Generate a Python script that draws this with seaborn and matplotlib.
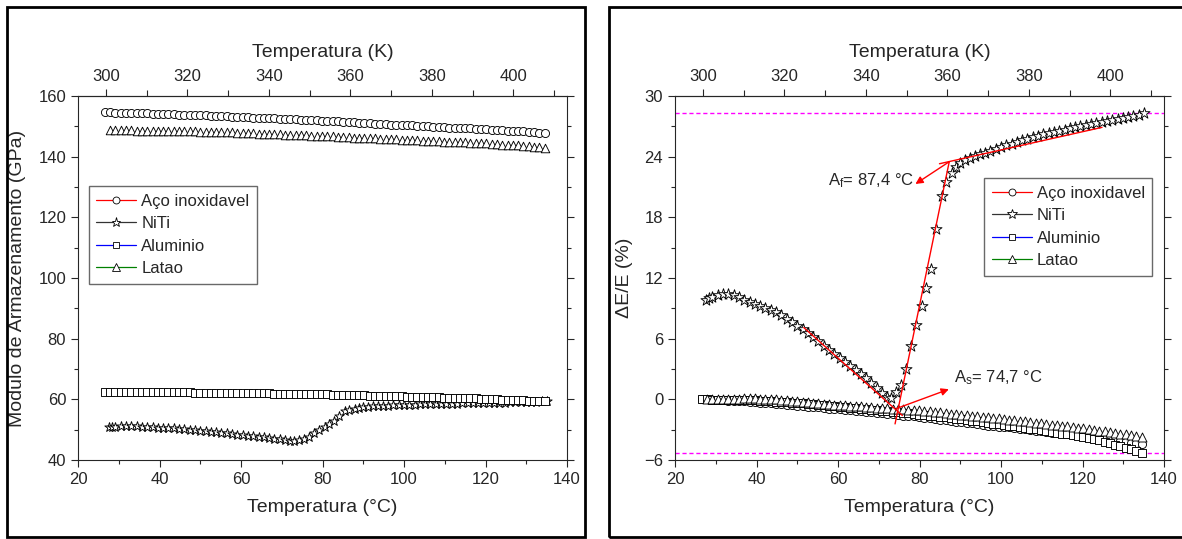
import matplotlib
matplotlib.use("Agg")
import matplotlib.pyplot as plt
import seaborn as sns
from matplotlib.lines import Line2D
from matplotlib.patches import Rectangle
from matplotlib.ticker import FixedLocator, MultipleLocator

####################################
# data
####################################
# common temperature grid (°C)
temp_c = [
    26.6, 27.9, 29.2, 30.5, 31.8, 33.1, 34.4, 35.7, 37.0, 38.3,
    39.6, 40.9, 42.2, 43.5, 44.8, 46.1, 47.4, 48.7, 50.0, 51.3,
    52.6, 53.9, 55.2, 56.5, 57.8, 59.1, 60.4, 61.7, 63.0, 64.3,
    65.6, 66.9, 68.2, 69.5, 70.8, 72.1, 73.4, 74.7, 76.0, 77.3,
    78.6, 79.9, 81.2, 82.5, 83.8, 85.1, 86.4, 87.7, 89.0, 90.3,
    91.6, 92.9, 94.2, 95.5, 96.8, 98.1, 99.4, 100.7, 102.0, 103.3,
    104.6, 105.9, 107.2, 108.5, 109.8, 111.1, 112.4, 113.7, 115.0, 116.3,
    117.6, 118.9, 120.2, 121.5, 122.8, 124.1, 125.4, 126.7, 128.0, 129.3,
    130.6, 131.9, 133.2, 134.5,
]
temp_latao = temp_c[1:]

# NiTi was sampled on its own grid
temp_niti = [
    27.5, 28.3, 29.2, 30.5, 31.8, 33.1, 34.4, 35.7, 37.0, 38.3,
    39.6, 40.9, 42.2, 43.5, 44.8, 46.1, 47.4, 48.7, 50.0, 51.3,
    52.6, 53.9, 55.2, 56.5, 57.8, 59.1, 60.4, 61.7, 63.0, 64.3,
    65.6, 66.9, 68.2, 69.5, 70.8, 72.0, 73.1, 74.3, 75.4, 76.8,
    77.9, 79.2, 80.5, 81.5, 82.7, 84.0, 85.5, 86.5, 87.9, 89.0,
    90.0, 91.1, 92.3, 93.5, 94.8, 96.1, 97.4, 98.7, 100.0, 101.3,
    102.6, 103.9, 105.2, 106.5, 107.8, 109.1, 110.4, 111.7, 113.0, 114.3,
    115.6, 116.9, 118.2, 119.5, 120.8, 122.1, 123.4, 124.7, 126.0, 127.3,
    128.6, 129.9, 131.2, 132.5, 133.8, 135.1,
]

# storage modulus (GPa)
mod_aco = [
    154.6, 154.6, 154.5, 154.5, 154.5, 154.4, 154.4, 154.3, 154.3, 154.2,
    154.2, 154.1, 154.1, 154.0, 153.9, 153.9, 153.8, 153.7, 153.6, 153.6,
    153.5, 153.4, 153.4, 153.3, 153.2, 153.1, 153.1, 153.0, 152.9, 152.8,
    152.8, 152.7, 152.6, 152.5, 152.5, 152.4, 152.3, 152.2, 152.1, 152.1,
    152.0, 151.9, 151.8, 151.7, 151.6, 151.5, 151.4, 151.3, 151.2, 151.1,
    151.0, 150.9, 150.8, 150.7, 150.6, 150.5, 150.4, 150.4, 150.3, 150.2,
    150.1, 150.0, 149.9, 149.8, 149.7, 149.6, 149.5, 149.4, 149.4, 149.3,
    149.2, 149.1, 149.0, 148.9, 148.8, 148.7, 148.6, 148.5, 148.4, 148.3,
    148.2, 148.0, 147.9, 147.8,
]
mod_latao = [
    148.8, 148.8, 148.7, 148.7, 148.7, 148.6, 148.6, 148.6, 148.5, 148.5,
    148.5, 148.4, 148.4, 148.4, 148.3, 148.3, 148.3, 148.2, 148.2, 148.1,
    148.1, 148.1, 148.0, 148.0, 147.9, 147.8, 147.8, 147.7, 147.6, 147.6,
    147.5, 147.4, 147.4, 147.3, 147.2, 147.1, 147.1, 147.0, 146.9, 146.9,
    146.8, 146.7, 146.7, 146.6, 146.5, 146.4, 146.3, 146.3, 146.2, 146.1,
    146.0, 145.9, 145.9, 145.8, 145.7, 145.6, 145.6, 145.5, 145.4, 145.3,
    145.2, 145.2, 145.1, 145.0, 144.9, 144.8, 144.8, 144.7, 144.6, 144.5,
    144.5, 144.4, 144.2, 144.1, 144.0, 143.9, 143.8, 143.7, 143.6, 143.4,
    143.3, 143.2, 143.0,
]
mod_alum = [
    62.5, 62.5, 62.5, 62.5, 62.4, 62.4, 62.4, 62.4, 62.4, 62.4,
    62.4, 62.3, 62.3, 62.3, 62.3, 62.3, 62.3, 62.2, 62.2, 62.2,
    62.2, 62.2, 62.1, 62.1, 62.1, 62.1, 62.1, 62.1, 62.0, 62.0,
    62.0, 62.0, 61.9, 61.9, 61.9, 61.8, 61.8, 61.8, 61.7, 61.7,
    61.6, 61.6, 61.6, 61.5, 61.5, 61.4, 61.4, 61.4, 61.3, 61.3,
    61.2, 61.2, 61.1, 61.1, 61.0, 61.0, 61.0, 60.9, 60.9, 60.8,
    60.8, 60.7, 60.7, 60.7, 60.6, 60.6, 60.5, 60.5, 60.4, 60.3,
    60.3, 60.2, 60.1, 60.1, 60.0, 59.9, 59.9, 59.8, 59.7, 59.7,
    59.6, 59.5, 59.5, 59.4,
]
mod_niti = [
    50.86, 50.93, 51.00, 51.07, 51.12, 51.12, 51.07, 50.98, 50.86, 50.74,
    50.65, 50.56, 50.49, 50.40, 50.28, 50.14, 49.98, 49.82, 49.66, 49.52,
    49.36, 49.17, 48.96, 48.75, 48.57, 48.38, 48.20, 48.01, 47.83, 47.64,
    47.46, 47.27, 47.04, 46.81, 46.58, 46.42, 46.35, 46.62, 46.95, 47.69,
    48.90, 50.00, 51.00, 51.90, 52.90, 54.50, 56.00, 56.50, 56.90, 57.20,
    57.35, 57.50, 57.65, 57.75, 57.85, 57.95, 58.00, 58.10, 58.15, 58.20,
    58.25, 58.30, 58.35, 58.40, 58.45, 58.50, 58.50, 58.55, 58.60, 58.65,
    58.70, 58.70, 58.75, 58.80, 58.85, 58.90, 58.90, 58.95, 59.00, 59.05,
    59.10, 59.15, 59.20, 59.25, 59.30, 59.35,
]

# relative change dE/E (%)
dee_aco = [
    0.00, 0.00, -0.06, -0.06, -0.06, -0.13, -0.13, -0.19, -0.19, -0.26,
    -0.26, -0.32, -0.32, -0.39, -0.45, -0.45, -0.52, -0.58, -0.65, -0.65,
    -0.71, -0.78, -0.78, -0.84, -0.91, -0.97, -0.97, -1.03, -1.10, -1.16,
    -1.16, -1.23, -1.29, -1.36, -1.36, -1.42, -1.49, -1.55, -1.62, -1.62,
    -1.68, -1.75, -1.81, -1.88, -1.94, -2.01, -2.07, -2.13, -2.20, -2.26,
    -2.33, -2.39, -2.46, -2.52, -2.59, -2.65, -2.72, -2.72, -2.78, -2.85,
    -2.91, -2.98, -3.04, -3.10, -3.17, -3.23, -3.30, -3.36, -3.36, -3.43,
    -3.49, -3.56, -3.62, -3.69, -3.75, -3.82, -3.88, -3.95, -4.01, -4.08,
    -4.14, -4.27, -4.33, -4.40,
]
dee_latao = [
    0.05, 0.06, 0.06, 0.07, 0.07, 0.08, 0.08, 0.09, 0.09, 0.10,
    0.08, 0.06, 0.03, 0.00, -0.04, -0.09, -0.14, -0.19, -0.23, -0.28,
    -0.33, -0.37, -0.42, -0.47, -0.52, -0.56, -0.60, -0.63, -0.67, -0.70,
    -0.74, -0.78, -0.81, -0.85, -0.88, -0.92, -0.95, -0.99, -1.03, -1.06,
    -1.10, -1.15, -1.20, -1.25, -1.30, -1.36, -1.41, -1.46, -1.51, -1.56,
    -1.62, -1.67, -1.72, -1.77, -1.82, -1.88, -1.93, -2.00, -2.06, -2.12,
    -2.18, -2.24, -2.30, -2.37, -2.43, -2.49, -2.55, -2.61, -2.67, -2.74,
    -2.80, -2.86, -2.94, -3.01, -3.09, -3.17, -3.24, -3.32, -3.39, -3.47,
    -3.55, -3.62, -3.70,
]
dee_alum = [
    0.00, -0.01, -0.02, -0.03, -0.04, -0.05, -0.06, -0.07, -0.08, -0.09,
    -0.10, -0.12, -0.16, -0.19, -0.22, -0.25, -0.29, -0.32, -0.35, -0.40,
    -0.44, -0.49, -0.53, -0.58, -0.62, -0.67, -0.72, -0.77, -0.82, -0.87,
    -0.92, -0.98, -1.03, -1.08, -1.13, -1.18, -1.24, -1.29, -1.34, -1.39,
    -1.44, -1.50, -1.55, -1.61, -1.67, -1.73, -1.79, -1.85, -1.91, -1.97,
    -2.04, -2.11, -2.18, -2.25, -2.32, -2.40, -2.47, -2.54, -2.61, -2.68,
    -2.75, -2.82, -2.90, -2.97, -3.04, -3.12, -3.21, -3.29, -3.38, -3.46,
    -3.54, -3.63, -3.72, -3.83, -3.95, -4.07, -4.19, -4.34, -4.48, -4.62,
    -4.78, -4.95, -5.13, -5.30,
]
dee_niti = [
    9.85, 10.0, 10.15, 10.3, 10.4, 10.4, 10.3, 10.1, 9.85, 9.6,
    9.4, 9.2, 9.05, 8.85, 8.6, 8.3, 7.95, 7.6, 7.25, 6.95,
    6.6, 6.2, 5.75, 5.3, 4.9, 4.5, 4.1, 3.7, 3.3, 2.9,
    2.5, 2.1, 1.6, 1.1, 0.6, 0.25, 0.1, 0.7, 1.4, 3.0,
    5.25, 7.4, 9.2, 11.0, 12.9, 16.8, 20.1, 21.5, 22.4, 23.0,
    23.35, 23.65, 23.9, 24.1, 24.25, 24.4, 24.6, 24.75, 24.95, 25.15,
    25.3, 25.45, 25.6, 25.75, 25.9, 26.05, 26.2, 26.3, 26.45, 26.55,
    26.65, 26.8, 26.9, 27.05, 27.15, 27.25, 27.35, 27.45, 27.55, 27.65,
    27.75, 27.85, 27.95, 28.05, 28.15, 28.3,
]

# tangent construction on the NiTi curve
tan_heat_x, tan_heat_y = [51.6, 75.8], [7.1, -1.6]
tan_rise_x, tan_rise_y = [74.0, 87.3], [-2.43, 23.5]
tan_top_x, tan_top_y = [84.9, 124.8], [23.3, 26.9]
af_point, af_arrow_end = (87.3, 23.5), (79.0, 21.3)
as_point, as_arrow_end = (74.4, -0.9), (87.2, 1.0)
af_label, as_label = "A$_f$= 87,4 °C", "A$_s$= 74,7 °C"
ref_max, ref_min = 28.35, -5.3

kelvin_ticks = [300, 320, 340, 360, 380, 400]
kelvin_minor = [300, 310, 320, 330, 340, 350, 360, 370, 380, 390, 400, 410]

materials = ["Aço inoxidavel", "NiTi", "Aluminio", "Latao"]
line_colors = ["red", "#333333", "blue", "green"]
markers = ["o", "*", "s", "^"]

####################################
# style
####################################
sns.set_style("ticks")
plt.rcParams["font.family"] = ["Liberation Sans", "DejaVu Sans"]
plt.rcParams["mathtext.default"] = "regular"
plt.rcParams["axes.linewidth"] = 0.8

W, H = 1182, 539
fig = plt.figure(figsize=(W / 100, H / 100), dpi=100)
ax1 = fig.add_axes([78 / W, 79 / H, 489 / W, 364 / H])
ax2 = fig.add_axes([675 / W, 79 / H, 489 / W, 364 / H])

# panel frames
fig.add_artist(Rectangle((7 / W, 2 / H), 578 / W, 530 / H, transform=fig.transFigure,
                         fill=False, lw=2, ec="black"))
fig.add_artist(Rectangle((609 / W, 2 / H), 600 / W, 530 / H, transform=fig.transFigure,
                         fill=False, lw=2, ec="black"))


def c_to_k(c):
    return c + 273.15


def k_to_c(k):
    return k - 273.15


def open_points(ax, x, y, marker, size):
    sns.scatterplot(x=x, y=y, ax=ax, marker=marker, s=size, color="white",
                    edgecolor="black", linewidth=0.65, zorder=3)


def style_axes(ax, ymin, ymax, ymajor, yminor):
    ax.set_xlim(20, 140)
    ax.set_ylim(ymin, ymax)
    ax.xaxis.set_major_locator(MultipleLocator(20))
    ax.xaxis.set_minor_locator(MultipleLocator(10))
    ax.yaxis.set_major_locator(MultipleLocator(ymajor))
    ax.yaxis.set_minor_locator(MultipleLocator(yminor))
    ax.tick_params(which="both", direction="out", top=False, right=True,
                   labelsize=12, width=0.8)
    ax.tick_params(which="major", length=5)
    ax.tick_params(which="minor", length=3)
    for sp in ax.spines.values():
        sp.set_visible(True)
        sp.set_linewidth(0.8)
    ax.set_xlabel("Temperatura (°C)", fontsize=14, labelpad=9)
    sec = ax.secondary_xaxis("top", functions=(c_to_k, k_to_c))
    sec.xaxis.set_major_locator(FixedLocator(kelvin_ticks))
    sec.xaxis.set_minor_locator(FixedLocator(kelvin_minor))
    sec.tick_params(which="both", direction="out", labelsize=12, width=0.8)
    sec.tick_params(which="major", length=5)
    sec.tick_params(which="minor", length=4)
    sec.set_xlabel("Temperatura (K)", fontsize=14, labelpad=9)


def add_legend(ax, anchor, msize):
    handles = [
        Line2D([0], [0], color=c, lw=0.9, marker=m, markersize=ms,
               markerfacecolor="white", markeredgecolor="black", markeredgewidth=0.6)
        for c, m, ms in zip(line_colors, markers, msize)
    ]
    leg = ax.legend(handles, materials, loc="upper left", bbox_to_anchor=anchor,
                    borderaxespad=0, fontsize=12, frameon=True, fancybox=False,
                    handlelength=2.4, handletextpad=0.3, borderpad=0.45,
                    labelspacing=0.45)
    leg.get_frame().set_edgecolor("#444444")
    leg.get_frame().set_linewidth(1.0)


####################################
# panel A: storage modulus
####################################
open_points(ax1, temp_c, mod_aco, "o", 34)
open_points(ax1, temp_niti, mod_niti, "*", 50)
open_points(ax1, temp_c, mod_alum, "s", 28)
open_points(ax1, temp_latao, mod_latao, "^", 38)

style_axes(ax1, 40, 160, 20, 10)
ax1.set_ylabel("Modulo de Armazenamento (GPa)", fontsize=14, labelpad=9)
add_legend(ax1, (0.022, 0.7525), [5, 6.5, 5, 5.5])

####################################
# panel B: relative change
####################################
ax2.axhline(ref_max, color="#ff00ff", lw=1.0, ls=(0, (3, 2)), zorder=1)
ax2.axhline(ref_min, color="#ff00ff", lw=1.0, ls=(0, (3, 2)), zorder=1)

open_points(ax2, temp_c, dee_aco, "o", 34)
open_points(ax2, temp_niti, dee_niti, "*", 70)
open_points(ax2, temp_c, dee_alum, "s", 32)
open_points(ax2, temp_latao, dee_latao, "^", 42)

for tx, ty in [(tan_heat_x, tan_heat_y), (tan_rise_x, tan_rise_y), (tan_top_x, tan_top_y)]:
    ax2.plot(tx, ty, color="red", lw=1.0, zorder=5)

arrow = dict(arrowstyle="-|>", color="red", lw=1.0, mutation_scale=11,
             shrinkA=0, shrinkB=0)
ax2.annotate("", xy=af_arrow_end, xytext=af_point, arrowprops=arrow, zorder=6)
ax2.annotate("", xy=as_arrow_end, xytext=as_point, arrowprops=arrow, zorder=6)
ax2.text(78.6, 21.6, af_label, fontsize=12, ha="right", va="center")
ax2.text(88.4, 2.1, as_label, fontsize=12, ha="left", va="center")

style_axes(ax2, -6, 30, 6, 3)
ax2.set_ylabel("ΔE/E (%)", fontsize=14, labelpad=8)
add_legend(ax2, (0.632, 0.774), [5, 7, 5, 5.5])

fig.savefig("out.png", dpi=100)
